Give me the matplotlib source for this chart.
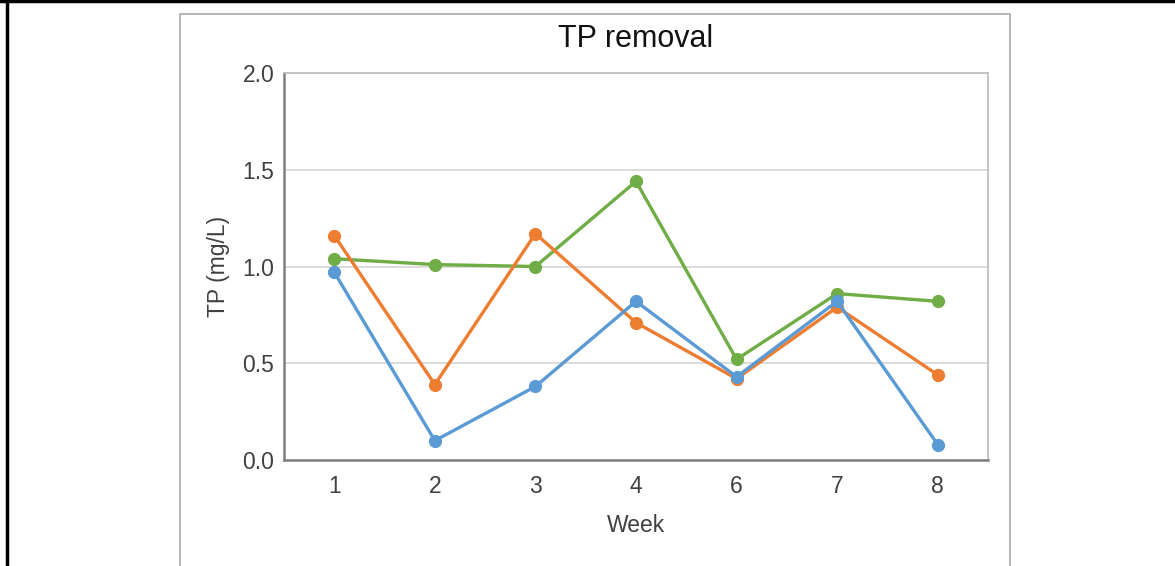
import matplotlib
matplotlib.use("Agg")
import matplotlib.pyplot as plt
from matplotlib.patches import Rectangle
from matplotlib.lines import Line2D

weeks = ["1", "2", "3", "4", "6", "7", "8"]
blue_vals = [0.97, 0.10, 0.38, 0.82, 0.43, 0.82, 0.08]
orange_vals = [1.16, 0.39, 1.17, 0.71, 0.42, 0.79, 0.44]
green_vals = [1.04, 1.01, 1.00, 1.44, 0.52, 0.86, 0.82]

plt.rcParams['font.family'] = ['Liberation Sans', 'DejaVu Sans']

fig = plt.figure(figsize=(11.75, 5.66), dpi=100)

# outer frame (black left + top) and gray chart box
fig.add_artist(Line2D([7 / 1175, 7 / 1175], [0, 1], transform=fig.transFigure, color="black", lw=2.5))
fig.add_artist(Line2D([0, 1], [1 - 1 / 566, 1 - 1 / 566], transform=fig.transFigure, color="black", lw=2.5))
fig.add_artist(Rectangle((180 / 1175, -0.05), 830 / 1175, 1.05 - 14 / 566,
                         transform=fig.transFigure, fill=False, edgecolor="#b0b0b0", lw=1.3))

ax = fig.add_axes([284 / 1175, 1 - 460 / 566, 704 / 1175, 387 / 566])
x = range(len(weeks))

ax.plot(x, green_vals, color="#70AD47", lw=2.4, marker="o", ms=8.5, zorder=3)
ax.plot(x, orange_vals, color="#ED7D31", lw=2.4, marker="o", ms=8.5, zorder=4)
ax.plot(x, blue_vals, color="#5B9BD5", lw=2.4, marker="o", ms=8.5, zorder=5)

ax.set_xlim(-0.5, len(weeks) - 0.5)
ax.set_ylim(0, 2.0)
ax.set_xticks(list(x))
ax.set_xticklabels(weeks)
ax.set_yticks([0, 0.5, 1.0, 1.5, 2.0])
ax.set_yticklabels(["0.0", "0.5", "1.0", "1.5", "2.0"])
ax.tick_params(axis="x", length=0, labelsize=16.5, labelcolor="#404040", pad=11)
ax.tick_params(axis="y", length=0, labelsize=16.5, labelcolor="#404040", pad=7)
ax.grid(axis="y", color="#d9d9d9", lw=1.3)
ax.set_axisbelow(True)

for side in ["left", "bottom"]:
    ax.spines[side].set_color("#7f7f7f")
    ax.spines[side].set_linewidth(1.8)
for side in ["top", "right"]:
    ax.spines[side].set_color("#bfbfbf")
    ax.spines[side].set_linewidth(1.3)

ax.set_title("TP removal", fontsize=22, color="#111111", pad=19)
ax.set_xlabel("Week", fontsize=16.5, color="#404040", labelpad=11)
ax.set_ylabel("TP (mg/L)", fontsize=16.5, color="#404040", labelpad=9)

fig.savefig("out.png", dpi=100)
